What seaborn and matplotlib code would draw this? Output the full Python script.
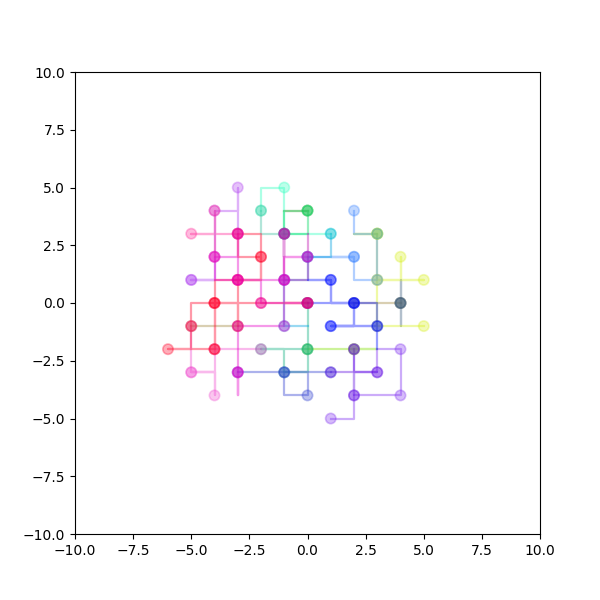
import matplotlib
matplotlib.use("Agg")
import matplotlib.pyplot as plt
import seaborn as sns
import pandas as pd

# Lattice walks (each step moves one unit); markers on every second point
tan_walk_a = [(-3,-1),(-4,-1),(-5,-1)]
tan_walk_b = [(0,4),(-1,4)]
tan_walk_c = [(2,0),(3,0),(4,0)]
slate_walk = [(4,0),(4,1),(4,0),(4,-1),(4,0)]
lime_walk = [(0,-2),(1,-2),(2,-2),(3,-2),(2,-2)]
yellow_walk = [(3,3),(3,2),(3,1),(4,1),(5,1),(4,1),(4,2),(4,1),(3,1),(3,0),(3,-1),(4,-1),(5,-1)]
chartreuse_walk = [(3,3),(2,3),(3,3)]
aqua_walk = [(-2,4),(-2,5),(-1,5),(-1,4),(-1,3),(0,3),(1,3)]
seafoam_walk = [(-2,4),(-2,3),(-1,3)]
green_walk = [(0,4),(0,3),(-1,3),(-1,4),(0,4)]
teal_walk = [(0,0),(0,-1),(0,-2),(-1,-2),(-2,-2),(-1,-2),(-1,-3),(0,-3),(0,-2)]
azure_walk = [(2,4),(2,3),(3,3),(3,2),(3,1),(2,1),(2,2),(1,2),(2,2),(1,2),(0,2)]
cyan_walk = [(1,3),(1,2),(0,2),(0,1),(-1,1),(-1,0),(-1,-1),(0,-1)]
indigo_walk = [(-3,-3),(-2,-3),(-1,-3),(-1,-4),(0,-4),(0,-3),(-1,-3),(0,-3),(1,-3)]
lavender_walk = [(2,-2),(2,-3),(3,-3),(3,-2),(4,-2),(4,-3),(4,-4),(3,-4),(2,-4),(2,-5),(1,-5)]
purple_walk = [(1,-3),(2,-3),(2,-4),(2,-3),(3,-3),(2,-3),(2,-2)]
violet_walk = [(-3,3),(-3,4),(-3,5),(-3,4),(-4,4),(-4,3),(-4,2),(-4,1),(-5,1),(-4,1),(-5,1)]
pink_walk = [(-3,3),(-4,3),(-5,3),(-4,3),(-4,4),(-4,3),(-4,2)]
orchid_walk = [(-5,-1),(-5,-2),(-5,-3),(-4,-3),(-5,-3),(-4,-3),(-4,-4),(-4,-3),(-4,-2),(-3,-2),(-2,-2)]
plum_walk = [(-1,3),(-1,2),(-1,3),(-1,2),(-1,3),(-1,2),(-1,1),(0,1),(0,2),(0,3)]
blue_walk = [(0,0),(1,0),(2,0),(2,-1),(3,-1),(3,0),(2,0),(1,0),(1,1),(0,1),(1,1),(1,0),(2,0),
             (2,-1),(1,-1),(2,-1),(1,-1),(2,-1),(3,-1),(3,-2)]
red_walk = [(0,0),(-1,0),(0,0),(-1,0),(-2,0),(-3,0),(-3,-1),(-3,0),(-4,0),(-4,-1),(-4,-2),(-5,-2),
            (-6,-2),(-5,-2),(-5,-1),(-5,0),(-4,0),(-4,1),(-3,1),(-2,1),(-2,2),(-2,3),(-3,3),(-3,2),
            (-2,2),(-2,1),(-3,1),(-3,0),(-4,0),(-4,-1),(-4,-2)]
magenta_walk = [(0,0),(-1,0),(-2,0),(-2,1),(-3,1),(-3,2),(-3,3),(-3,2),(-4,2),(-4,1),(-3,1),(-2,1),
                (-1,1),(-1,2),(0,2),(-1,2),(-1,1),(-1,0),(-1,-1),(-2,-1),(-3,-1),(-3,-2),(-3,-3),(-3,-4),
                (-3,-3),(-3,-4)]

walks = [tan_walk_a, tan_walk_b, tan_walk_c, slate_walk, lime_walk, yellow_walk,
         chartreuse_walk, aqua_walk, seafoam_walk, green_walk, teal_walk, azure_walk, cyan_walk,
         indigo_walk, lavender_walk, purple_walk, violet_walk, pink_walk, orchid_walk, plum_walk,
         blue_walk, red_walk, magenta_walk]
walk_colors = ['#a08840', '#a08840', '#a08840', '#406080', '#80e000', '#d8f020',
               '#b0f000', '#30ffc0', '#40c0a0', '#00d860', '#10b080', '#3f87ff', '#00a0e0',
               '#3040d0', '#8030f0', '#6010e0', '#b040f0', '#ff2a9a', '#f050d0', '#c010b0',
               '#0010ff', '#ff0028', '#e600c8']

rows = []
for w, pts in enumerate(walks):
    for i, (x, y) in enumerate(pts):
        rows.append({"walk": w, "step": i, "x": x, "y": y})
df = pd.DataFrame(rows)
marks = df[df["step"] % 2 == 0]
palette = {w: c for w, c in enumerate(walk_colors)}

fig, ax = plt.subplots(figsize=(6, 6), dpi=100)
sns.lineplot(data=df, x="x", y="y", hue="walk", units="walk", estimator=None, sort=False,
             palette=palette, alpha=0.4, lw=1.6, legend=False, ax=ax)
sns.scatterplot(data=marks, x="x", y="y", hue="walk", palette=palette, alpha=0.32, s=55,
                edgecolor="face", linewidth=1.2, legend=False, ax=ax, zorder=3)
ax.set_xlim(-10, 10)
ax.set_ylim(-10, 10)
ax.set_xlabel("")
ax.set_ylabel("")
fig.savefig("out.png", dpi=100)
